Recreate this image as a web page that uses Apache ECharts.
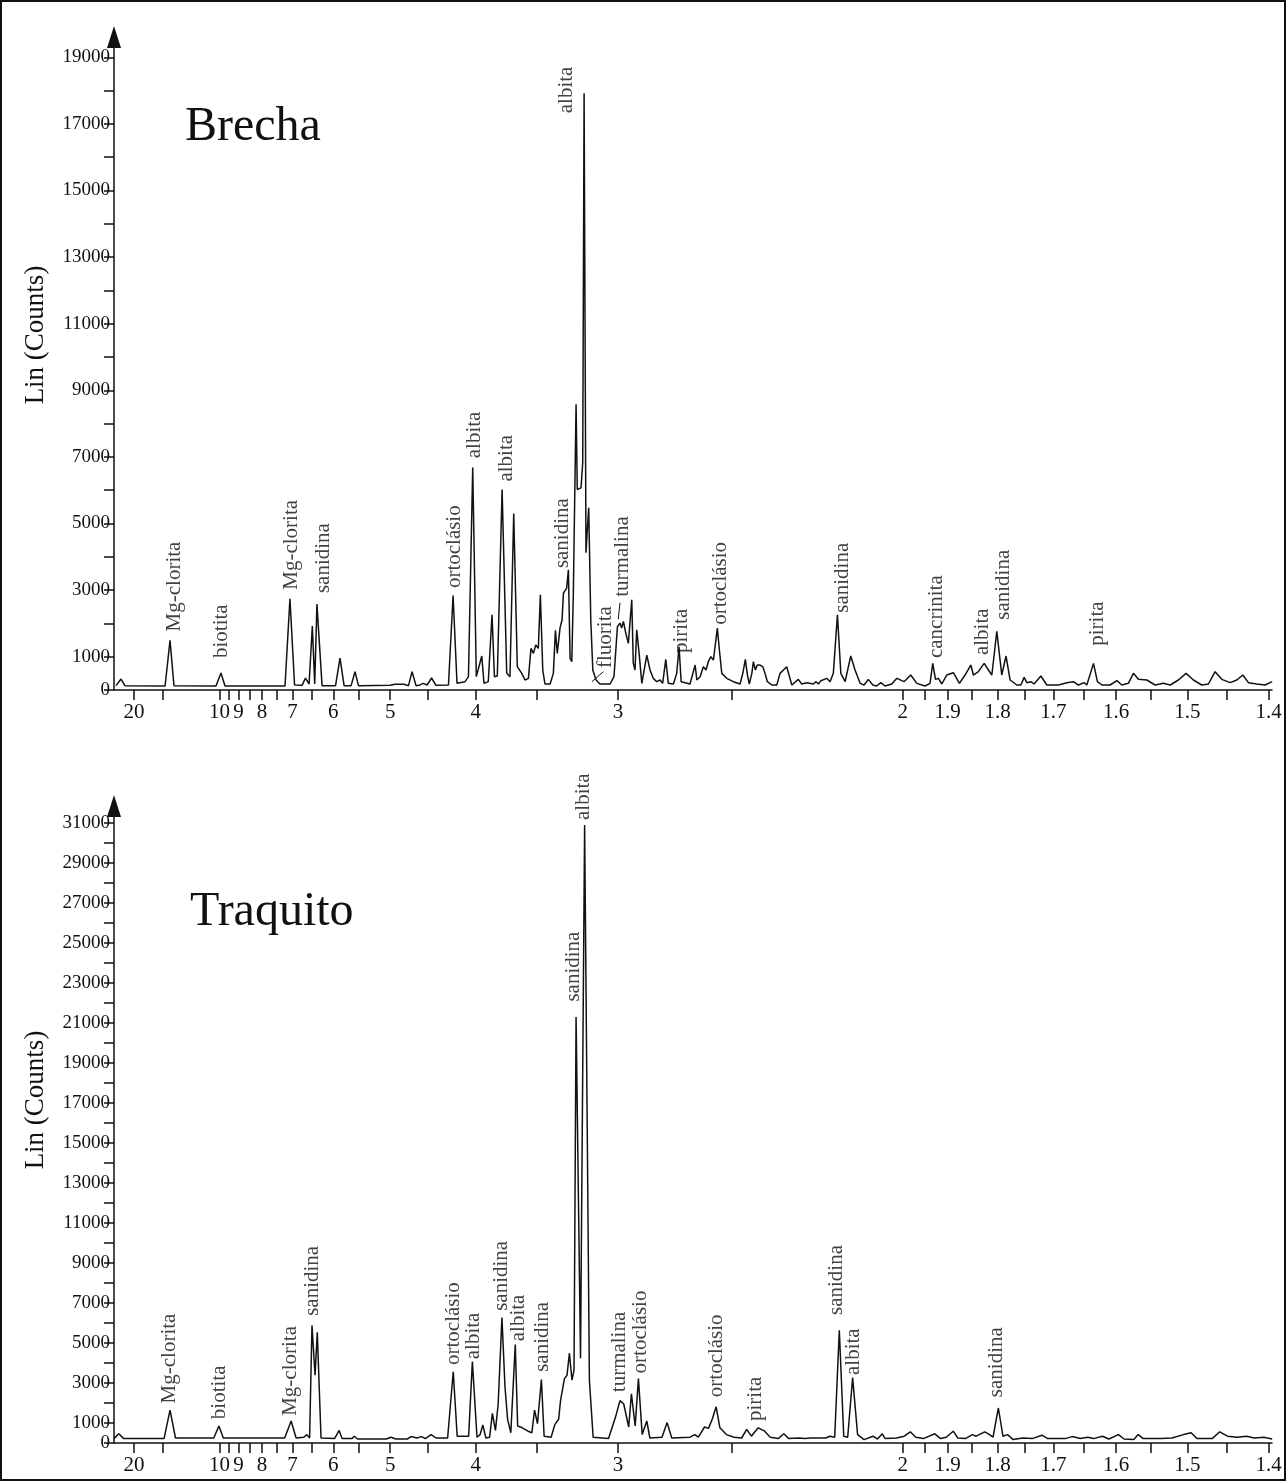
<!DOCTYPE html>
<html>
<head>
<meta charset="utf-8">
<script src="https://cdn.jsdelivr.net/npm/echarts@6.0.0/dist/echarts.min.js"></script>
<style>
html, body { margin: 0; padding: 0; background: #fff; }
#chart { width: 1286px; height: 1481px; }
</style>
</head>
<body>
<div id="chart"></div>
<script>
// x values are 1/d in 1/Angstrom (the original axis is linear in 1/d), y values are counts
const brechaQ = [
  0.0395, 0.0424, 0.0447, 0.0682, 0.0687, 0.0711, 0.0734, 0.0980, 0.1009, 0.1033,
  0.1384, 0.1413, 0.1440, 0.1484, 0.1504, 0.1525, 0.1544, 0.1558, 0.1571, 0.1601,
  0.1680, 0.1706, 0.1730, 0.1771, 0.1794, 0.1814, 0.1999, 0.2028, 0.2081, 0.2107,
  0.2128, 0.2151, 0.2169, 0.2192, 0.2216, 0.2242, 0.2268, 0.2341, 0.2368, 0.2391,
  0.2438, 0.2458, 0.2483, 0.2504, 0.2536, 0.2549, 0.2574, 0.2596, 0.2610, 0.2627,
  0.2655, 0.2682, 0.2701, 0.2723, 0.2744, 0.2770, 0.2789, 0.2809, 0.2824, 0.2838,
  0.2852, 0.2867, 0.2879, 0.2893, 0.2906, 0.2936, 0.2955, 0.2967, 0.2978, 0.2994,
  0.3006, 0.3014, 0.3033, 0.3043, 0.3053, 0.3063, 0.3072, 0.3088, 0.3095, 0.3117,
  0.3127, 0.3135, 0.3146, 0.3154, 0.3162, 0.3174, 0.3186, 0.3205, 0.3228, 0.3287,
  0.3310, 0.3330, 0.3345, 0.3355, 0.3365, 0.3379, 0.3394, 0.3414, 0.3423, 0.3433,
  0.3443, 0.3457, 0.3473, 0.3482, 0.3502, 0.3521, 0.3540, 0.3560, 0.3580, 0.3595,
  0.3613, 0.3628, 0.3658, 0.3677, 0.3691, 0.3703, 0.3755, 0.3785, 0.3795, 0.3814,
  0.3833, 0.3849, 0.3862, 0.3877, 0.3892, 0.3915, 0.3927, 0.3941, 0.3970, 0.4009,
  0.4048, 0.4064, 0.4079, 0.4091, 0.4102, 0.4117, 0.4126, 0.4138, 0.4149, 0.4165,
  0.4181, 0.4194, 0.4208, 0.4234, 0.4263, 0.4282, 0.4321, 0.4351, 0.4389, 0.4409,
  0.4439, 0.4477, 0.4493, 0.4507, 0.4521, 0.4532, 0.4556, 0.4575, 0.4594, 0.4618,
  0.4638, 0.4663, 0.4696, 0.4721, 0.4751, 0.4774, 0.4799, 0.4825, 0.4848, 0.4872,
  0.4897, 0.4936, 0.4966, 0.5008, 0.5047, 0.5083, 0.5131, 0.5160, 0.5176, 0.5192,
  0.5209, 0.5229, 0.5258, 0.5297, 0.5332, 0.5365, 0.5399, 0.5414, 0.5443, 0.5477,
  0.5502, 0.5522, 0.5551, 0.5580, 0.5605, 0.5629, 0.5668, 0.5692, 0.5711, 0.5727,
  0.5750, 0.5769, 0.5809, 0.5844, 0.5912, 0.5961, 0.5999, 0.6029, 0.6062, 0.6078,
  0.6117, 0.6140, 0.6166, 0.6214, 0.6254, 0.6283, 0.6321, 0.6351, 0.6380, 0.6429,
  0.6478, 0.6526, 0.6566, 0.6614, 0.6659, 0.6702, 0.6751, 0.6790, 0.6829, 0.6868,
  0.6917, 0.6956, 0.6991, 0.7024, 0.7073, 0.7122, 0.7163
];
const brechaCounts = [
  130, 330, 130, 120, 130, 1490, 130, 120, 510, 120,
  120, 2740, 150, 140, 360, 180, 1920, 180, 2580, 130,
  130, 960, 130, 130, 550, 130, 140, 170, 170, 130,
  550, 130, 140, 200, 150, 360, 140, 150, 2840, 200,
  250, 400, 6680, 400, 1020, 200, 250, 2260, 400, 420,
  6020, 500, 400, 5300, 700, 500, 300, 350, 1250, 1100,
  1350, 1250, 2860, 600, 180, 180, 500, 1790, 1100, 1860,
  2110, 2910, 3060, 3610, 950, 850, 2910, 8580, 6020, 6070,
  6830, 17920, 4120, 4820, 5470, 2110, 600, 300, 180, 180,
  400, 1900, 2010, 1860, 2060, 1710, 1400, 2710, 800, 600,
  1810, 1100, 200, 150, 1050, 600, 350, 250, 300, 200,
  920, 200, 180, 500, 1300, 250, 180, 750, 300, 400,
  700, 600, 850, 1000, 900, 1860, 1200, 500, 350, 250,
  180, 500, 920, 450, 180, 500, 850, 600, 750, 750,
  700, 500, 250, 150, 150, 500, 700, 150, 320, 180,
  220, 180, 250, 180, 280, 220, 350, 250, 500, 2260,
  500, 250, 1020, 600, 200, 150, 320, 150, 120, 220,
  120, 180, 350, 250, 450, 200, 120, 200, 800, 320,
  350, 180, 450, 520, 200, 450, 750, 450, 550, 800,
  600, 450, 1760, 450, 1020, 300, 150, 150, 380, 220,
  250, 180, 420, 150, 150, 220, 250, 150, 220, 150,
  800, 250, 150, 150, 280, 150, 200, 500, 320, 300,
  150, 200, 150, 300, 500, 300, 150, 180, 550, 320,
  220, 300, 450, 220, 180, 150, 250
];

const traquitoQ = [
  0.0383, 0.0411, 0.0440, 0.0676, 0.0711, 0.0743, 0.0967, 0.0997, 0.1023, 0.1382,
  0.1420, 0.1449, 0.1494, 0.1512, 0.1528, 0.1542, 0.1560, 0.1573, 0.1595, 0.1674,
  0.1701, 0.1718, 0.1775, 0.1790, 0.1809, 0.1977, 0.2004, 0.2033, 0.2100, 0.2122,
  0.2156, 0.2183, 0.2206, 0.2239, 0.2268, 0.2336, 0.2369, 0.2392, 0.2459, 0.2481,
  0.2508, 0.2526, 0.2542, 0.2560, 0.2582, 0.2598, 0.2616, 0.2632, 0.2654, 0.2672,
  0.2687, 0.2706, 0.2717, 0.2732, 0.2746, 0.2773, 0.2807, 0.2829, 0.2845, 0.2862,
  0.2885, 0.2901, 0.2942, 0.2964, 0.2986, 0.2997, 0.3020, 0.3035, 0.3049, 0.3064,
  0.3076, 0.3088, 0.3114, 0.3138, 0.3166, 0.3188, 0.3278, 0.3318, 0.3345, 0.3367,
  0.3396, 0.3412, 0.3434, 0.3453, 0.3475, 0.3502, 0.3520, 0.3591, 0.3621, 0.3648,
  0.3755, 0.3782, 0.3804, 0.3840, 0.3863, 0.3885, 0.3908, 0.3930, 0.3968, 0.4013,
  0.4057, 0.4087, 0.4114, 0.4154, 0.4192, 0.4225, 0.4271, 0.4304, 0.4333, 0.4393,
  0.4427, 0.4461, 0.4550, 0.4573, 0.4602, 0.4629, 0.4655, 0.4678, 0.4707, 0.4736,
  0.4774, 0.4826, 0.4853, 0.4881, 0.4897, 0.4964, 0.5009, 0.5045, 0.5076, 0.5121,
  0.5188, 0.5222, 0.5255, 0.5296, 0.5323, 0.5367, 0.5408, 0.5430, 0.5480, 0.5502,
  0.5529, 0.5560, 0.5587, 0.5614, 0.5647, 0.5703, 0.5759, 0.5815, 0.5849, 0.5950,
  0.5994, 0.6039, 0.6084, 0.6117, 0.6169, 0.6207, 0.6263, 0.6296, 0.6353, 0.6379,
  0.6408, 0.6509, 0.6576, 0.6644, 0.6689, 0.6722, 0.6812, 0.6856, 0.6901, 0.6957,
  0.7013, 0.7058, 0.7114, 0.7163
];
const traquitoCounts = [
  220, 460, 220, 220, 1640, 250, 250, 850, 250, 250,
  1100, 250, 290, 420, 250, 5880, 3390, 5540, 250, 220,
  630, 220, 220, 340, 200, 200, 290, 200, 200, 320,
  250, 320, 220, 420, 250, 250, 3560, 340, 340, 4070,
  290, 420, 900, 250, 290, 1480, 630, 1950, 6270, 2800,
  1190, 510, 510, 4920, 850, 760, 590, 510, 1640, 970,
  3170, 340, 290, 930, 1190, 2120, 3220, 3390, 4490, 3140,
  3640, 21300, 4240, 30900, 3140, 290, 220, 1270, 2120, 1950,
  800, 2460, 850, 3220, 420, 1100, 250, 290, 1020, 250,
  290, 420, 290, 800, 730, 1190, 1810, 760, 420, 290,
  250, 680, 340, 760, 590, 290, 220, 460, 220, 250,
  220, 250, 250, 340, 290, 5640, 340, 290, 3270, 420,
  170, 340, 200, 460, 220, 250, 340, 560, 290, 220,
  460, 220, 290, 590, 250, 220, 420, 340, 560, 460,
  290, 1750, 340, 420, 170, 250, 220, 390, 220, 220,
  320, 220, 290, 220, 340, 200, 420, 200, 170, 420,
  220, 220, 250, 420, 510, 220, 220, 560, 340, 290,
  340, 250, 290, 200
];

// peak names and where each rotated name starts (1/d, counts)
const brechaPeakNames = ['Mg-clorita', 'biotita', 'Mg-clorita', 'sanidina', 'ortoclásio', 'albita', 'albita', 'sanidina', 'albita',
  'fluorita', 'turmalina', 'pirita', 'ortoclásio', 'sanidina', 'cancrinita', 'albita', 'sanidina', 'pirita'];
const brechaPeakQ = [0.0740, 0.1013, 0.1423, 0.1608, 0.2379, 0.2491, 0.2678, 0.3006, 0.3033,
  0.3258, 0.3357, 0.3708, 0.3931, 0.4645, 0.5196, 0.5465, 0.5588, 0.6138];
const brechaPeakCounts = [1760, 960, 3010, 2910, 3060, 6960, 6260, 3660, 17320,
  660, 2800, 1110, 1960, 2320, 960, 1050, 2110, 1330];
const brechaLeaders = [[[0.3181, 250], [0.3248, 550]], [[0.3345, 2620], [0.3335, 2120]]];

const traquitoPeakNames = ['Mg-clorita', 'biotita', 'Mg-clorita', 'sanidina', 'ortoclásio', 'albita', 'sanidina', 'albita', 'sanidina',
  'sanidina', 'albita', 'turmalina', 'ortoclásio', 'ortoclásio', 'pirita', 'sanidina', 'albita', 'sanidina'];
const traquitoPeakQ = [0.0709, 0.1001, 0.1416, 0.1546, 0.2369, 0.2488, 0.2653, 0.2750, 0.2892,
  0.3072, 0.3131, 0.3340, 0.3463, 0.3908, 0.4141, 0.4614, 0.4711, 0.5551];
const traquitoPeakCounts = [1980, 1190, 1360, 6360, 3900, 4190, 6610, 5090, 3560,
  22070, 31150, 2540, 3480, 2290, 1100, 6400, 3400, 2290];

// d-spacing ticks (Angstrom)
const xTickD = [20, 15, 10, 9.5, 9, 8.5, 8, 7.5, 7, 6.5, 6, 5.5, 5, 4.5, 4, 3.5, 3, 2.5,
  2, 1.95, 1.9, 1.85, 1.8, 1.75, 1.7, 1.65, 1.6, 1.55, 1.5, 1.45, 1.4];
const xLabelD = [20, 10, 9, 8, 7, 6, 5, 4, 3, 2, 1.9, 1.8, 1.7, 1.6, 1.5, 1.4];

const brechaYTicks = [0, 1000, 2000, 3000, 4000, 5000, 6000, 7000, 8000, 9000, 10000,
  11000, 12000, 13000, 14000, 15000, 16000, 17000, 18000, 19000];
const brechaYLabels = [0, 1000, 3000, 5000, 7000, 9000, 11000, 13000, 15000, 17000, 19000];
const traquitoYTicks = [0, 1000, 2000, 3000, 4000, 5000, 6000, 7000, 8000, 9000, 10000,
  11000, 12000, 13000, 14000, 15000, 16000, 17000, 18000, 19000, 20000,
  21000, 22000, 23000, 24000, 25000, 26000, 27000, 28000, 29000, 30000, 31000];
const traquitoYLabels = [0, 1000, 3000, 5000, 7000, 9000, 11000, 13000, 15000, 17000, 19000,
  21000, 23000, 25000, 27000, 29000, 31000];

const FONT = 'Liberation Serif';
const INK = '#111';
const Q_MIN = 0.0383, Q_MAX = 0.7162;

const chart = echarts.init(document.getElementById('chart'));

function xAxisFor(gi) {
  return {
    type: 'value', gridIndex: gi, min: Q_MIN, max: Q_MAX,
    axisLine: { show: true, onZero: false, lineStyle: { color: INK, width: 1.5 } },
    axisTick: { show: true, length: 10, customValues: xTickD.map(d => 1 / d), lineStyle: { color: INK, width: 1.5 } },
    axisLabel: {
      customValues: xLabelD.map(d => 1 / d),
      formatter: v => String(+(1 / v).toFixed(2)),
      color: INK, fontFamily: FONT, fontSize: 21, margin: 12
    },
    splitLine: { show: false }
  };
}

function yAxisFor(gi, max, ticks, labels) {
  return {
    type: 'value', gridIndex: gi, min: 0, max: max,
    axisLine: { show: true, symbol: ['none', 'triangle'], symbolSize: [14, 22], lineStyle: { color: INK, width: 1.5 } },
    axisTick: { show: true, length: 10, customValues: ticks, lineStyle: { color: INK, width: 1.5 } },
    axisLabel: { customValues: labels, formatter: v => String(v), color: INK, fontFamily: FONT, fontSize: 19, margin: 4 },
    splitLine: { show: false }
  };
}

function lineSeries(gi, q, counts) {
  return {
    type: 'line', xAxisIndex: gi, yAxisIndex: gi,
    data: q.map((v, i) => [v, counts[i]]),
    symbol: 'none', showSymbol: false, silent: true,
    lineStyle: { color: INK, width: 1.5 }
  };
}

function labelSeries(gi, names, q, counts, leaders) {
  return {
    type: 'scatter', xAxisIndex: gi, yAxisIndex: gi, symbolSize: 0, silent: true,
    data: names.map((n, i) => ({ name: n, value: [q[i], counts[i]] })),
    label: {
      show: true, formatter: '{b}', position: 'top', distance: 0, rotate: 90,
      align: 'left', verticalAlign: 'middle',
      color: INK, fontFamily: FONT, fontSize: 21
    },
    markLine: {
      silent: true, symbol: ['none', 'none'], label: { show: false },
      lineStyle: { color: INK, width: 1, type: 'solid' },
      data: leaders.map(l => [{ coord: l[0] }, { coord: l[1] }])
    }
  };
}

chart.setOption({
  animation: false,
  backgroundColor: '#fff',
  grid: [
    { left: 114, top: 37, width: 1158, height: 653 },
    { left: 114, top: 806, width: 1158, height: 637 }
  ],
  xAxis: [xAxisFor(0), xAxisFor(1)],
  yAxis: [
    yAxisFor(0, 19610, brechaYTicks, brechaYLabels),
    yAxisFor(1, 31850, traquitoYTicks, traquitoYLabels)
  ],
  series: [
    lineSeries(0, brechaQ, brechaCounts),
    lineSeries(1, traquitoQ, traquitoCounts),
    labelSeries(0, brechaPeakNames, brechaPeakQ, brechaPeakCounts, brechaLeaders),
    labelSeries(1, traquitoPeakNames, traquitoPeakQ, traquitoPeakCounts, [])
  ],
  graphic: [
    { type: 'rect', shape: { x: 1, y: 1, width: 1284, height: 1479 }, style: { fill: null, stroke: INK, lineWidth: 2 } },
    { type: 'text', x: 185, y: 127, style: { text: 'Brecha', font: '48px "Liberation Serif"', fill: INK, align: 'left', verticalAlign: 'middle' } },
    { type: 'text', x: 190, y: 912, style: { text: 'Traquito', font: '48px "Liberation Serif"', fill: INK, align: 'left', verticalAlign: 'middle' } },
    { type: 'text', x: 36, y: 335, rotation: Math.PI / 2, style: { text: 'Lin (Counts)', font: '27px "Liberation Serif"', fill: INK, align: 'center', verticalAlign: 'middle' } },
    { type: 'text', x: 36, y: 1100, rotation: Math.PI / 2, style: { text: 'Lin (Counts)', font: '27px "Liberation Serif"', fill: INK, align: 'center', verticalAlign: 'middle' } }
  ]
});
</script>
</body>
</html>
